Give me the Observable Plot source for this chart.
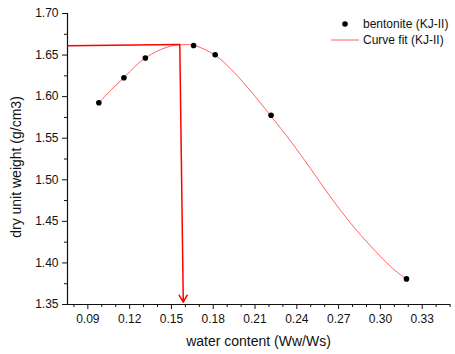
<!DOCTYPE html>
<html><head><meta charset="utf-8">
<script src="https://cdn.jsdelivr.net/npm/d3@7"></script>
<script src="https://cdn.jsdelivr.net/npm/@observablehq/plot@0.6"></script>
<style>
body{margin:0;background:#fff;}
#wrap{width:455px;height:354px;}
</style></head>
<body><div id="wrap"></div>
<script>
// measured points
const waterContent = [0.0979, 0.1159, 0.1313, 0.1659, 0.1814, 0.2215, 0.3187];
const dryUnitWeight = [1.5926, 1.6228, 1.6464, 1.6616, 1.6504, 1.5776, 1.3808];
// curve fit
const fitX = [0.0979, 0.1063, 0.1158, 0.1242, 0.1314, 0.1398, 0.1494, 0.1566, 0.1656, 0.1809, 0.1948, 0.2068, 0.2211, 0.2355, 0.2498, 0.2642, 0.2785, 0.2929, 0.3073, 0.3180];
const fitY = [1.5926, 1.6074, 1.6227, 1.6369, 1.6467, 1.6547, 1.6607, 1.6624, 1.6619, 1.6503, 1.6296, 1.6068, 1.5773, 1.5466, 1.5136, 1.4793, 1.4480, 1.4204, 1.3957, 1.3809];
// annotation: max dry unit weight line and arrow to optimum water content
const maxLineX = [0.0754, 0.1560];
const maxLineY = [1.6612, 1.6627];
const arrowX = [0.1560, 0.1585];
const arrowY = [1.6627, 1.3528];
// axes
const xDomain = [0.0754, 0.3503];
const yDomain = [1.35, 1.70];
const xTicks = [0.09, 0.12, 0.15, 0.18, 0.21, 0.24, 0.27, 0.30, 0.33];
const xMinorTicks = [0.08, 0.10, 0.11, 0.13, 0.14, 0.16, 0.17, 0.19, 0.20, 0.22, 0.23, 0.25, 0.26, 0.28, 0.29, 0.31, 0.32, 0.34, 0.35];
const yTicks = [1.35, 1.40, 1.45, 1.50, 1.55, 1.60, 1.65, 1.70];
const yMinorTicks = [1.375, 1.425, 1.475, 1.525, 1.575, 1.625, 1.675];
const xLabel = "water content (Ww/Ws)";
const yLabel = "dry unit weight (g/cm3)";
const legendLabels = ["bentonite (KJ-II)", "Curve fit (KJ-II)"];

const points = waterContent.map((x, i) => ({x, y: dryUnitWeight[i]}));
const fit = fitX.map((x, i) => ({x, y: fitY[i]}));
const maxLine = [{x1: maxLineX[0], y1: maxLineY[0], x2: maxLineX[1], y2: maxLineY[1]}];
const arrow = [{x1: arrowX[0], y1: arrowY[0], x2: arrowX[1], y2: arrowY[1]}];

const font = "'Liberation Sans', Arial, sans-serif";
const fmt = d3.format(".2f");
const fitColor = "#ff5252";

const chart = Plot.plot({
  width: 455,
  height: 354,
  marginLeft: 67,
  marginTop: 13,
  marginRight: 5,
  marginBottom: 50,
  style: {fontFamily: font, fontSize: "12px", color: "#111", background: "#fff"},
  x: {domain: xDomain},
  y: {domain: yDomain},
  marks: [
    Plot.axisX({ticks: xTicks, tickSize: 5, tickPadding: 5, tickFormat: fmt, label: null, fontSize: 12}),
    Plot.axisX({ticks: xMinorTicks, tickSize: 3, tickFormat: () => "", label: null}),
    Plot.axisY({ticks: yTicks, tickSize: 5, tickPadding: 4, tickFormat: fmt, label: null, fontSize: 12}),
    Plot.axisY({ticks: yMinorTicks, tickSize: 3, tickFormat: () => "", label: null}),
    Plot.ruleY([yDomain[0]], {stroke: "#111", strokeWidth: 1.2}),
    Plot.ruleX([xDomain[0]], {stroke: "#111", strokeWidth: 1.2}),
    Plot.line(fit, {x: "x", y: "y", curve: "catmull-rom", stroke: fitColor, strokeWidth: 0.9}),
    Plot.link(maxLine, {x1: "x1", y1: "y1", x2: "x2", y2: "y2", stroke: "#ff0000", strokeWidth: 1.5}),
    Plot.arrow(arrow, {x1: "x1", y1: "y1", x2: "x2", y2: "y2", stroke: "#ff0000", strokeWidth: 1.5, headLength: 8}),
    Plot.dot(points, {x: "x", y: "y", r: 2.8, fill: "#000", stroke: "none"})
  ]
});

const svg = d3.select(chart);
// axis titles
svg.append("text").attr("x", 258.5).attr("y", 341.5).attr("dy", "0.35em")
  .attr("text-anchor", "middle").attr("font-family", font).attr("font-size", 14).attr("fill", "#111")
  .text(xLabel);
svg.append("text").attr("transform", "translate(16.5,167) rotate(-90)").attr("dy", "0.35em")
  .attr("text-anchor", "middle").attr("font-family", font).attr("font-size", 14).attr("fill", "#111")
  .text(yLabel);

// legend inside the plot area
const lg = svg.append("g").attr("font-family", font).attr("font-size", 12).attr("fill", "#111").attr("text-anchor", "start");
lg.append("circle").attr("cx", 345).attr("cy", 24).attr("r", 2.8).attr("fill", "#000");
lg.append("text").attr("x", 363).attr("y", 24).attr("dy", "0.35em").text(legendLabels[0]);
lg.append("line").attr("x1", 331).attr("x2", 359).attr("y1", 40).attr("y2", 40).attr("stroke", fitColor).attr("stroke-width", 0.9);
lg.append("text").attr("x", 363).attr("y", 40).attr("dy", "0.35em").text(legendLabels[1]);

document.getElementById("wrap").appendChild(chart);
</script>
</body></html>
